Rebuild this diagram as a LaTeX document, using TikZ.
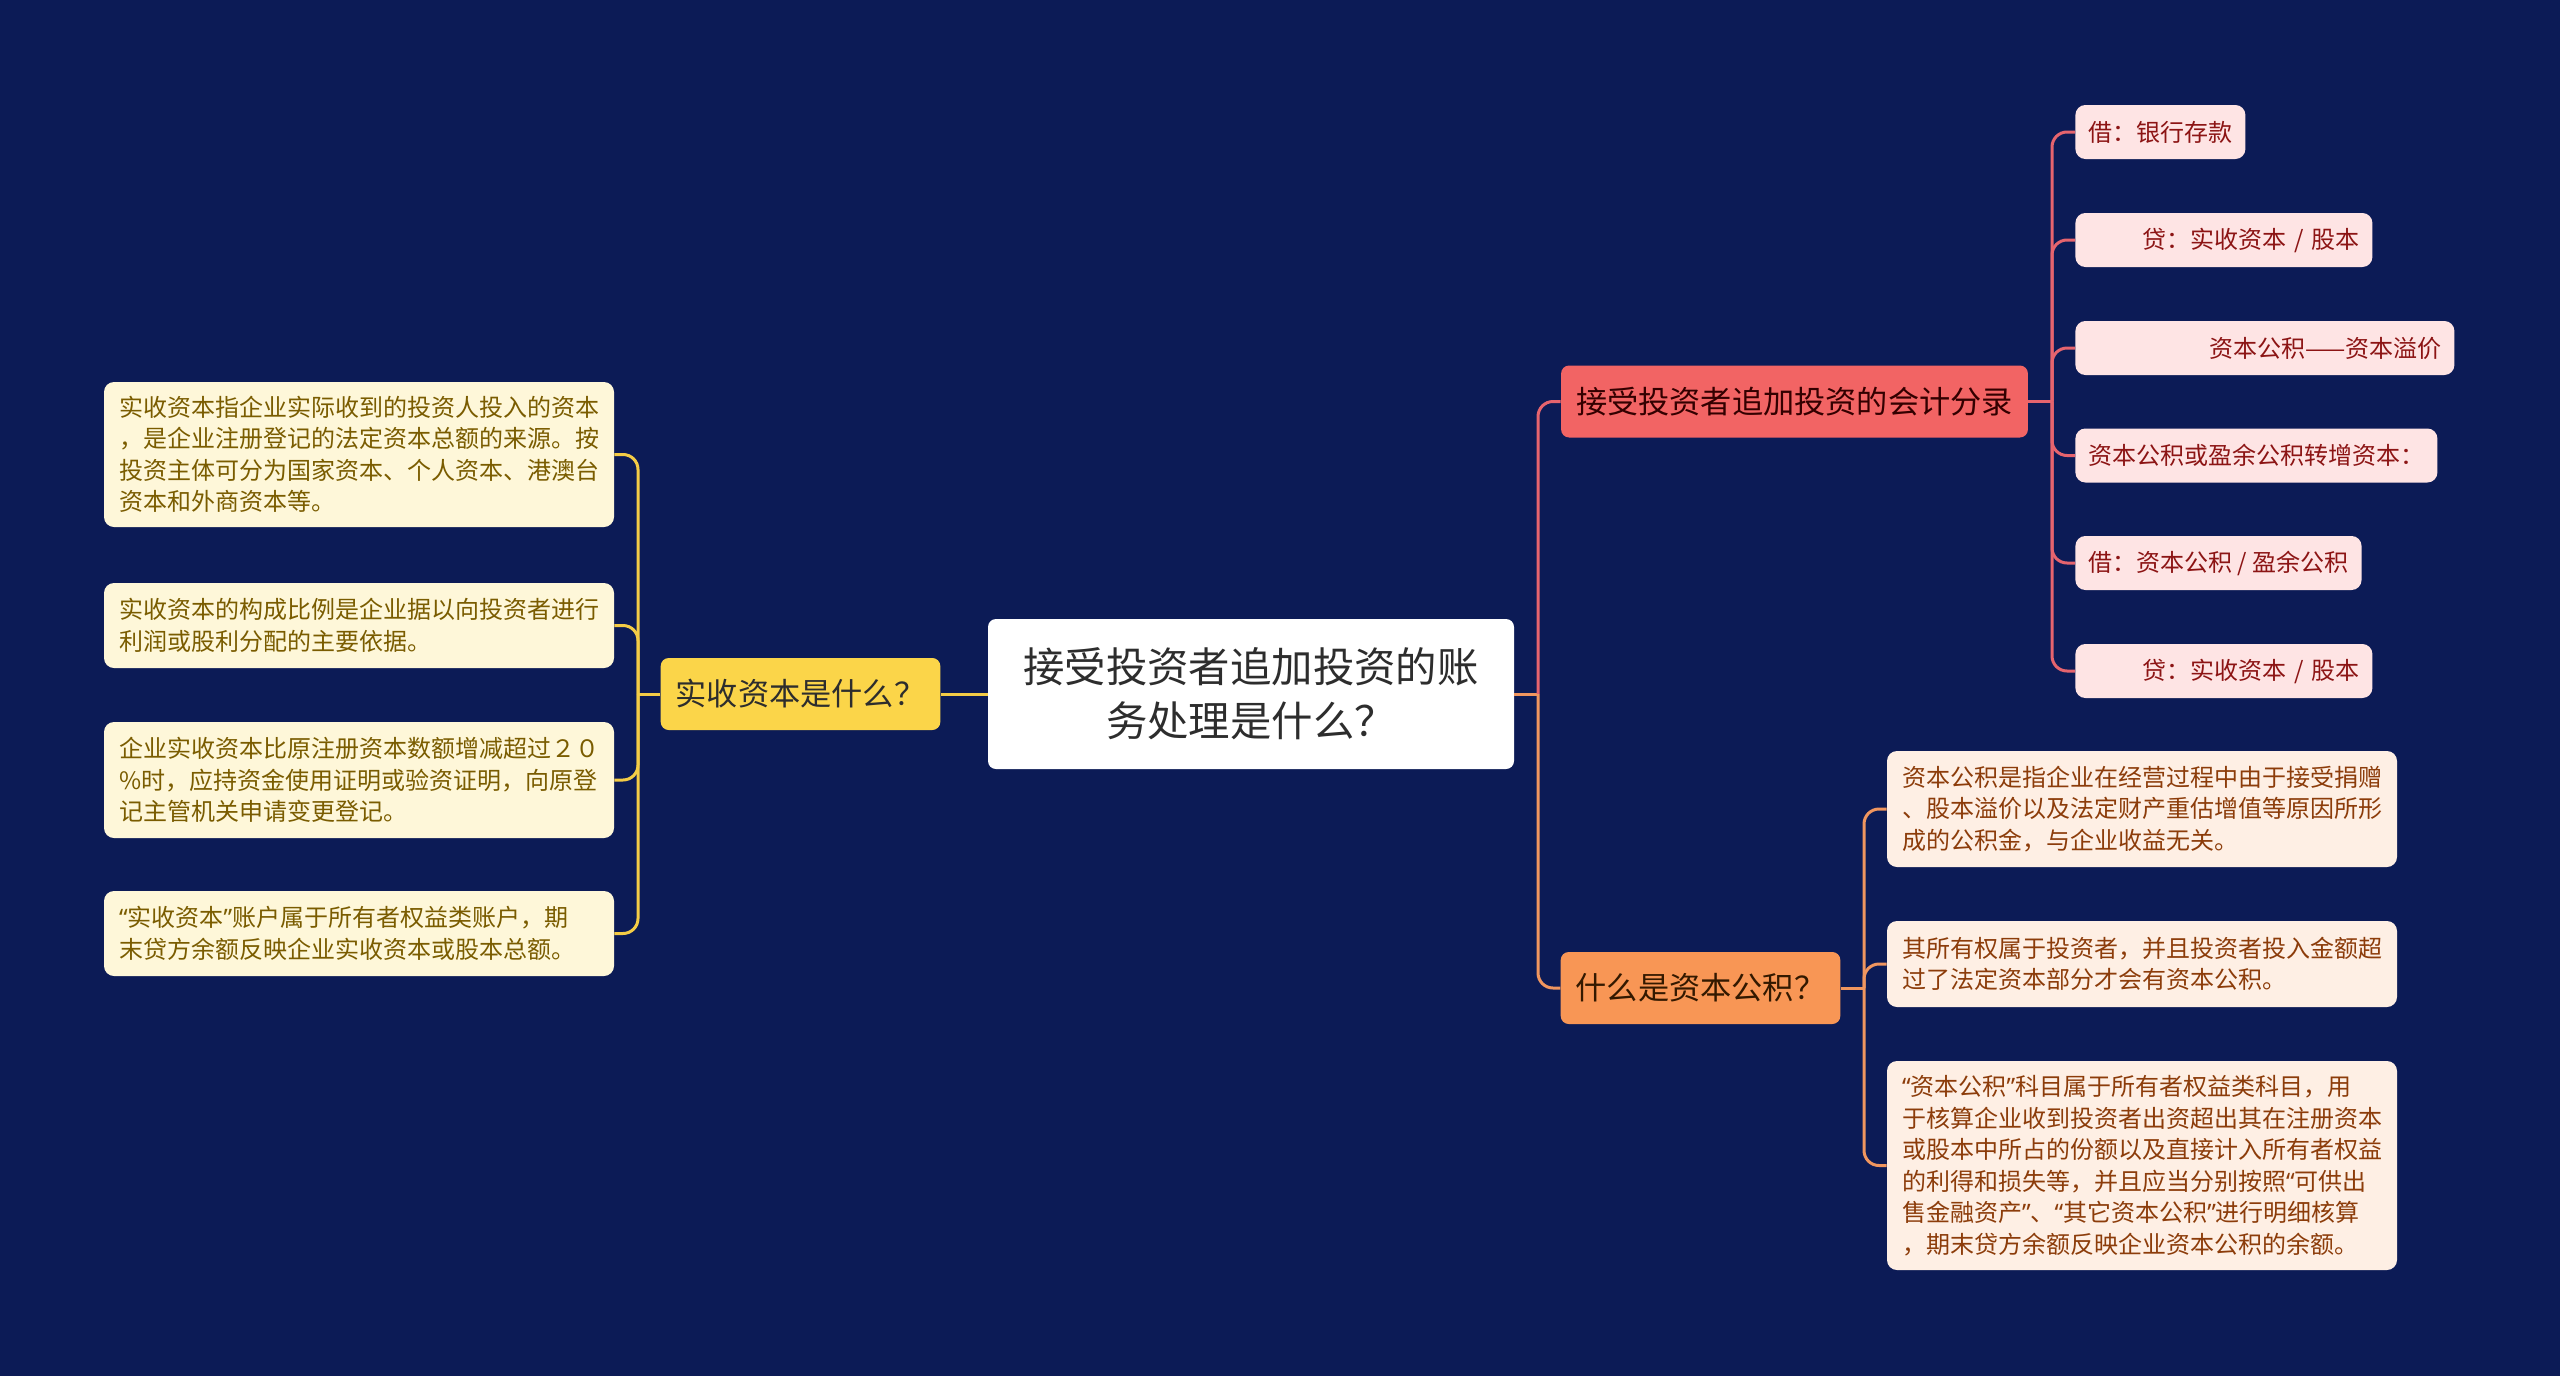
\documentclass[tikz,border=0pt]{standalone}
\usepackage{fontspec}
\usepackage{xcolor}
\usepackage{tikz}
\usetikzlibrary{positioning}
\newfontfamily\cjk{Noto Sans CJK SC}
\newfontfamily\latinq{Noto Sans}
\newcommand{\qo}{{\latinq “}}
\newcommand{\qc}{{\latinq ”}}
\definecolor{bgnavy}{RGB}{12, 27, 86}
\definecolor{roottext}{RGB}{45, 45, 45}
\definecolor{capyel}{RGB}{251, 213, 73}
\definecolor{capline}{RGB}{244, 204, 70}
\definecolor{capleaf}{RGB}{254, 247, 217}
\definecolor{captext}{RGB}{122, 92, 0}
\definecolor{entryred}{RGB}{242, 100, 100}
\definecolor{entryline}{RGB}{230, 100, 110}
\definecolor{entryleaf}{RGB}{254, 228, 228}
\definecolor{entrytext}{RGB}{140, 20, 20}
\definecolor{surporange}{RGB}{248, 150, 85}
\definecolor{surpline}{RGB}{240, 150, 95}
\definecolor{surpleaf}{RGB}{254, 239, 228}
\definecolor{surptext}{RGB}{140, 60, 10}
\tikzset{
  rootbox/.style={fill=white, text=roottext, rounded corners=4pt, align=center,
    font=\cjk\fontsize{20.7pt}{27pt}\selectfont, minimum width=263pt, minimum height=75pt},
  topicbox/.style={rounded corners=4pt, inner xsep=7.5pt, inner ysep=0pt, minimum height=36pt,
    font=\cjk\fontsize{15.6pt}{18pt}\selectfont},
  leafbox/.style={rounded corners=5pt, inner xsep=7.5pt, inner ysep=0pt, text width=240pt, align=left,
    font=\cjk\fontsize{12pt}{15.75pt}\selectfont},
  entrybox/.style={fill=entryleaf, text=entrytext, rounded corners=5pt, inner xsep=6.5pt, inner ysep=0pt,
    minimum height=27pt, anchor=west, font=\cjk\fontsize{12pt}{15pt}\selectfont},
  link/.style={line width=1.5pt}
}

\begin{document}
\begin{tikzpicture}[x=0.5pt, y=-0.5pt]
    % Background
    \useasboundingbox (0,0) rectangle (2560,1376);
    \fill[bgnavy] (0,0) rectangle (2560,1376);

    % Central topic
    \node[rootbox] (root) at (1251,694) {接受投资者追加投资的账\\务处理是什么？};

    % Main topics
    \node[topicbox, fill=capyel, text=roottext] (capq) at (800.5,694) {实收资本是什么？};
    \node[topicbox, fill=entryred, text=black!80!red] (entry) at (1794.5,401.5) {接受投资者追加投资的会计分录};
    \node[topicbox, fill=surporange, text=black!80!orange] (surplus) at (1700.5,988) {什么是资本公积？};

    % Left leaves
    \node[leafbox, fill=capleaf, text=captext, minimum height=72.5pt] (l1) at (359,454.5)
        {实收资本指企业实际收到的投资人投入的资本\\，是企业注册登记的法定资本总额的来源。按\\投资主体可分为国家资本、个人资本、港澳台\\资本和外商资本等。};
    \node[leafbox, fill=capleaf, text=captext, minimum height=42.5pt] (l2) at (359,625.5)
        {实收资本的构成比例是企业据以向投资者进行\\利润或股利分配的主要依据。};
    \node[leafbox, fill=capleaf, text=captext, minimum height=58pt] (l3) at (359,780)
        {企业实收资本比原注册资本数额增减超过２０\\\%时，应持资金使用证明或验资证明，向原登\\记主管机关申请变更登记。};
    \node[leafbox, fill=capleaf, text=captext, minimum height=42.5pt] (l4) at (359,933.5)
        {\qo 实收资本\qc 账户属于所有者权益类账户，期\\末贷方余额反映企业实收资本或股本总额。};

    % Journal entries
    \node[entrybox] (p1) at (2075,132) {借：银行存款};
    \node[entrybox, text width=135.5pt, align=right] (p2) at (2075,240) {贷：实收资本 / 股本};
    \node[entrybox, text width=176.5pt, align=right] (p3) at (2075,348) {资本公积——资本溢价};
    \node[entrybox] (p4) at (2075,455.5) {资本公积或盈余公积转增资本：};
    \node[entrybox] (p5) at (2075,563) {借：资本公积 / 盈余公积};
    \node[entrybox, text width=135.5pt, align=right] (p6) at (2075,671) {贷：实收资本 / 股本};

    % Capital surplus leaves
    \node[leafbox, fill=surpleaf, text=surptext, minimum height=58pt] (s1) at (2142,809)
        {资本公积是指企业在经营过程中由于接受捐赠\\、股本溢价以及法定财产重估增值等原因所形\\成的公积金，与企业收益无关。};
    \node[leafbox, fill=surpleaf, text=surptext, minimum height=43pt] (s2) at (2142,964)
        {其所有权属于投资者，并且投资者投入金额超\\过了法定资本部分才会有资本公积。};
    \node[leafbox, fill=surpleaf, text=surptext, minimum height=104.5pt] (s3) at (2142,1165.5)
        {\qo 资本公积\qc 科目属于所有者权益类科目，用\\于核算企业收到投资者出资超出其在注册资本\\或股本中所占的份额以及直接计入所有者权益\\的利得和损失等，并且应当分别按照\qo 可供出\\售金融资产\qc 、\qo 其它资本公积\qc 进行明细核算\\，期末贷方余额反映企业资本公积的余额。};

    % Junction points
    \coordinate (jroot) at (1538,694);
    \coordinate (jcap) at (638,694);
    \coordinate (jentry) at (2052,401.5);
    \coordinate (jsurp) at (1864,988);

    % Left branch
    \draw[link, capline] (root.west) -- (capq.east);
    \draw[link, capline] (capq.west) -- (jcap);
    \foreach \n in {l1,l2,l3,l4}
        \draw[link, capline, rounded corners=7.5pt] (jcap) |- (\n.east);

    % Right branches
    \draw[link, surpline] (root.east) -- (jroot);
    \draw[link, entryline, rounded corners=7.5pt] (jroot) |- (entry.west);
    \draw[link, surpline, rounded corners=7.5pt] (jroot) |- (surplus.west);
    \draw[link, entryline] (entry.east) -- (jentry);
    \foreach \n in {p1,p2,p3,p4,p5,p6}
        \draw[link, entryline, rounded corners=7.5pt] (jentry) |- (\n.west);
    \draw[link, surpline] (surplus.east) -- (jsurp);
    \foreach \n in {s1,s2,s3}
        \draw[link, surpline, rounded corners=7.5pt] (jsurp) |- (\n.west);
\end{tikzpicture}
\end{document}
